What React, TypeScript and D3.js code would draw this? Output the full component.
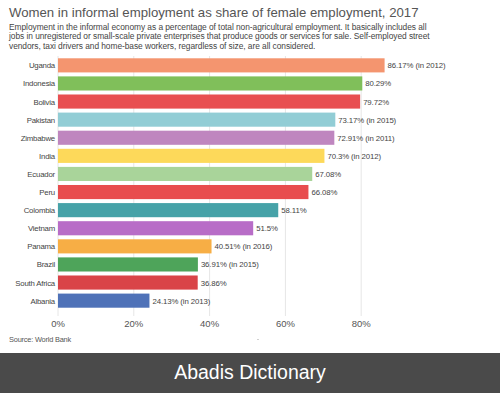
import React from "react";
import * as d3 from "d3";

const countries = ["Uganda", "Indonesia", "Bolivia", "Pakistan", "Zimbabwe", "India", "Ecuador", "Peru", "Colombia", "Vietnam", "Panama", "Brazil", "South Africa", "Albania"];
const values = [86.17, 80.29, 79.72, 73.17, 72.91, 70.3, 67.08, 66.08, 58.11, 51.5, 40.51, 36.91, 36.86, 24.13];
const years = ["2012", "", "", "2015", "2011", "2012", "", "", "", "", "2016", "2015", "", "2013"];
const colors = ["#f4956f", "#80bf5a", "#e84f51", "#92cdd5", "#bf86bf", "#fdd95a", "#a9d49a", "#e84d4e", "#46a2a8", "#b86dc7", "#f7ae45", "#4ea45a", "#d94448", "#4f72b8"];
const ticks = [0, 20, 40, 60, 80];

const subtitle = [
  "Employment in the informal economy as a percentage of total non-agricultural employment. It basically includes all",
  "jobs in unregistered or small-scale private enterprises that produce goods or services for sale. Self-employed street",
  "vendors, taxi drivers and home-base workers, regardless of size, are all considered.",
];

export default function App() {
  const width = 500;
  const height = 393;
  const font = "Liberation Sans, Arial, sans-serif";

  const x = d3.scaleLinear().domain([0, 100]).range([58, 437]);
  const y = d3.scaleBand().domain(countries).range([56.3, 309.7]).paddingInner(0.22).paddingOuter(0.11);

  return (
    <svg width={width} height={height} style={{ position: "fixed", left: 0, top: 0 }} fontFamily={font}>
      <rect width={width} height={height} fill="#fff" />
      <text x={9} y={17} fontSize={13.2} fill="#555">
        Women in informal employment as share of female employment, 2017
      </text>
      {subtitle.map((s, i) => (
        <text key={i} x={9} y={29.5 + i * 9.6} fontSize={8.4} fill="#444" letterSpacing={-0.05}>
          {s}
        </text>
      ))}
      {ticks.map((t) => (
        <g key={t}>
          <line x1={x(t)} x2={x(t)} y1={56} y2={316} stroke="#e6e6e6" strokeWidth={1} />
          <text x={x(t)} y={327} fontSize={9.5} fill="#555" textAnchor="middle">
            {t}%
          </text>
        </g>
      ))}
      {countries.map((c, i) => {
        const yy = y(c) as number;
        const bh = y.bandwidth();
        return (
          <g key={c}>
            <text x={55} y={yy + bh / 2 + 3} fontSize={7.8} fill="#444" textAnchor="end" letterSpacing={-0.2}>
              {c}
            </text>
            <rect x={x(0)} y={yy} width={x(values[i]) - x(0)} height={bh} fill={colors[i]} />
            <text x={x(values[i]) + 3} y={yy + bh / 2 + 3} fontSize={7.8} fill="#444" letterSpacing={-0.1}>
              {values[i]}%{years[i] ? ` (in ${years[i]})` : ""}
            </text>
          </g>
        );
      })}
      <text x={9} y={342} fontSize={7.4} fill="#555" letterSpacing={-0.2}>
        Source: World Bank
      </text>
      <circle cx={258} cy={339.5} r={0.6} fill="#999" />
      <rect x={0} y={353} width={width} height={40} fill="#4a4a4a" />
      <text x={250} y={379} fontSize={19.5} fill="#fff" textAnchor="middle" fontFamily="Arial, Liberation Sans, sans-serif">
        Abadis Dictionary
      </text>
    </svg>
  );
}
